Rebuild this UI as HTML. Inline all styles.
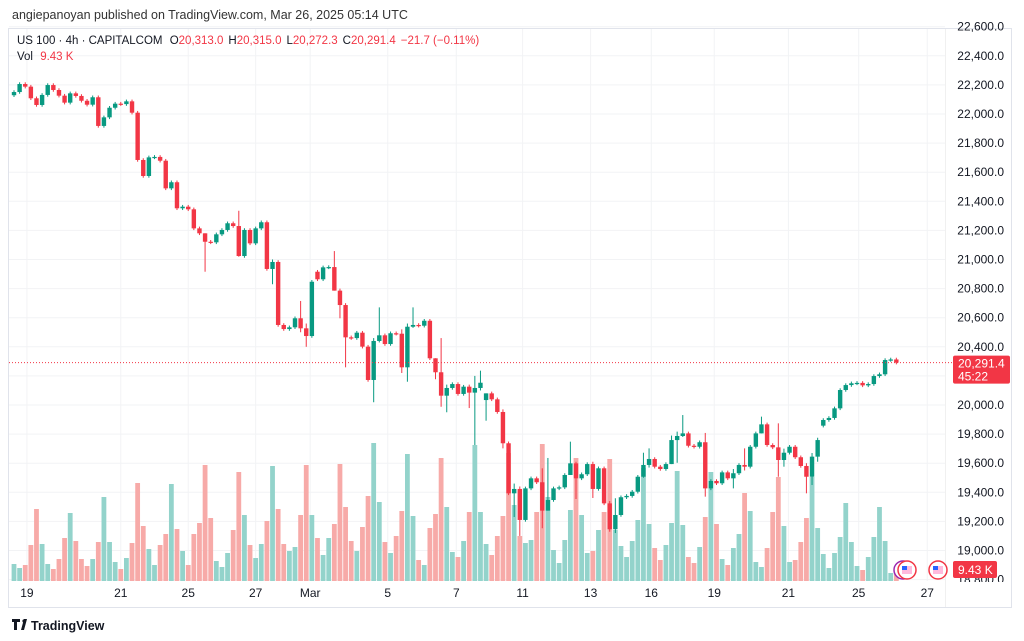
<!DOCTYPE html>
<html><head><meta charset="utf-8">
<style>
html,body{margin:0;padding:0;background:#fff;}
body{width:1024px;height:641px;overflow:hidden;position:relative;font-family:"Liberation Sans",sans-serif;}
svg{position:absolute;left:0;top:0;}
</style></head>
<body>
<svg id="chart" width="1024" height="641" xmlns="http://www.w3.org/2000/svg"></svg>
<script>
const closes=[22151,22206,22188,22108,22062,22131,22199,22165,22126,22078,22142,22124,22091,22064,22115,21918,21977,22043,22071,22068,22087,22009,21684,21574,21702,21705,21679,21489,21531,21352,21363,21345,21214,21180,21122,21118,21173,21203,21249,21230,21024,21203,21111,21214,21256,20935,20983,20550,20522,20534,20596,20527,20474,20847,20864,20946,20948,20786,20687,20465,20460,20497,20401,20172,20440,20479,20419,20493,20490,20259,20538,20550,20545,20579,20321,20225,20064,20117,20144,20076,20126,20085,20117,20153,20080,20039,19952,19737,19393,19423,19210,19427,19496,19469,19274,19347,19427,19434,19519,19599,19496,19524,19594,19423,19565,19324,19146,19244,19366,19375,19404,19507,19588,19629,19576,19560,19594,19759,19787,19805,19720,19713,19744,19427,19478,19462,19537,19496,19531,19588,19576,19713,19805,19867,19725,19709,19622,19672,19713,19641,19581,19507,19645,19759,19897,19911,19977,20103,20137,20149,20152,20135,20144,20199,20211,20309,20313,20291.4];
const firstOpen=22129;
const gapOpens={54:20916,84:20034,144:19858,157:20313};
const wickExtremes={34:[21160,20916],40:[21335,21019],46:[21000,20830],51:[20715,20500],52:[20560,20400],57:[21058,20930],58:[20800,20596],59:[20700,20259],64:[20460,20019],65:[20671,20430],69:[20520,20220],70:[20560,20160],71:[20671,20530],75:[20300,20177],76:[20460,19988],77:[20140,19950],81:[20140,19979],82:[20200,19725],83:[20236,20100],84:[20060,19892],87:[19970,19702],89:[19460,19230],90:[19440,19100],94:[19565,19153],95:[19636,19320],99:[19748,19570],100:[19610,19354],103:[19610,19361],106:[19340,19129],107:[19359,19120],112:[19672,19500],113:[19702,19570],117:[19790,19601],118:[19817,19603],119:[19931,19780],123:[19808,19370],128:[19560,19427],130:[19702,19550],133:[19920,19850],136:[19874,19507],137:[19700,19576],141:[19600,19393],142:[19670,19450],143:[19775,19610]};
const volumes=[17,13,16,36,72,37,17,12,22,43,68,40,22,15,22,39,84,39,19,12,23,38,98,55,32,16,36,47,97,52,30,16,47,58,116,63,20,14,28,51,109,66,36,23,37,60,115,72,37,30,34,66,116,66,43,26,43,57,117,74,40,30,54,85,138,79,39,28,45,70,127,65,21,16,53,67,123,74,29,24,40,69,136,69,37,26,45,65,128,76,45,38,41,69,137,84,31,18,41,71,123,66,28,30,51,69,122,51,35,24,40,61,113,57,33,21,36,58,110,56,24,18,34,64,109,57,22,16,33,47,88,70,19,14,33,69,104,55,19,21,39,63,104,53,27,13,28,44,78,39,15,11,24,44,74,40,8,9.43];
const priceTicks=[22600,22400,22200,22000,21800,21600,21400,21200,21000,20800,20600,20400,20200,20000,19800,19600,19400,19200,19000,18800];
const dateLabels=["19","21","25","27","Mar","5","7","11","13","16","19","21","25","27"];
const dateIndex=[2.3,19,31,43,52.7,66.5,78.7,90.5,102.6,113.4,124.6,137.8,150.3,162.5];

const NS="http://www.w3.org/2000/svg";
const svg=document.getElementById('chart');
const G="#089981",R="#f23645",VG="#93d3cb",VR="#f7aaa8";
const xOf=i=>14+i*5.62;
const yOf=p=>405-(p-20000)*0.1455;
const vY=v=>581-v*1.0;
function mk(tag,attrs,parent){const e=document.createElementNS(NS,tag);for(const k in attrs)e.setAttribute(k,attrs[k]);(parent||svg).appendChild(e);return e;}
function fmt(n){return n.toLocaleString('en-US',{minimumFractionDigits:1,maximumFractionDigits:1});}

// frame
let e=mk('rect',{x:8.5,y:28.5,width:1003,height:579,fill:'none',stroke:'#e0e3eb'});


// grid
const grid=mk('g',{});


priceTicks.forEach(p=>{mk('line',{x1:9,x2:945,y1:yOf(p),y2:yOf(p),stroke:'#f2f3f5'},grid);});
dateIndex.forEach(i=>{mk('line',{x1:xOf(i),x2:xOf(i),y1:29,y2:581,stroke:'#f2f3f5'},grid);});
mk('line',{x1:945.5,x2:945.5,y1:29,y2:607,stroke:'#f0f0f0'},grid);

// volume bars
const vg=mk('g',{});


const opens=closes.map((c,i)=>gapOpens[i]!==undefined?gapOpens[i]:(i===0?firstOpen:closes[i-1]));
volumes.forEach((v,i)=>{
  const up=closes[i]>=opens[i];
  const b=mk('rect',{x:xOf(i)-2.4,y:vY(v),width:4.8,height:581-vY(v),fill:up?VG:VR},vg);
  
  
});

// candles
const cg=mk('g',{});


closes.forEach((c,i)=>{
  const o=opens[i],up=c>=o,col=up?G:R;
  const we=wickExtremes[i];
  const hi=we?Math.max(we[0],o,c):Math.max(o,c)+12;
  const lo=we?Math.min(we[1],o,c):Math.min(o,c)-12;
  const x=xOf(i);
  const g=mk('g',{},cg);
  
  
  mk('line',{x1:x,x2:x,y1:yOf(hi),y2:yOf(lo),stroke:col,'stroke-width':1},g);
  const yt=yOf(Math.max(o,c)),yb=yOf(Math.min(o,c));
  mk('rect',{x:x-2.2,y:yt,width:4.4,height:Math.max(1.2,yb-yt),fill:col},g);
});

// last price line
const last=closes[closes.length-1];
e=mk('line',{x1:9,x2:952,y1:yOf(last),y2:yOf(last),stroke:R,'stroke-width':1,'stroke-dasharray':'1 2'});



// price axis
const pa=mk('g',{});


priceTicks.forEach(p=>{
  const t=mk('text',{x:1004,y:yOf(p)+4,'text-anchor':'end','font-size':12,fill:'#131722'},pa);
  t.textContent=fmt(p);
  
  
});
// white mask below axis bottom
mk('rect',{x:946,y:582,width:65,height:25,fill:'#fff'});
// date axis
const da=mk('g',{});


dateLabels.forEach((d,k)=>{
  const t=mk('text',{x:xOf(dateIndex[k]),y:597,'text-anchor':'middle','font-size':12,fill:'#131722'},da);
  t.textContent=d;
  
  
});

// price label
const pl=mk('g',{});


mk('rect',{x:953,y:yOf(last)-7,width:57,height:28,rx:2,fill:R},pl);
let t=mk('text',{x:958,y:yOf(last)+5,'font-size':12,fill:'#fff'},pl);t.textContent=fmt(last);
t=mk('text',{x:958,y:yOf(last)+18,'font-size':12,fill:'#fff'},pl);t.textContent="45:22";
// volume label
const vl=mk('g',{});


mk('rect',{x:953,y:561,width:44,height:17,rx:2,fill:R},vl);
t=mk('text',{x:958,y:574,'font-size':12,fill:'#fff'},vl);t.textContent="9.43 K";

// event icons
[[903,570,'#9c27b0'],[907,570,R],[938,570,R]].forEach((c,k)=>{
  const ic=mk('g',{});
  
  
  mk('circle',{cx:c[0],cy:c[1],r:9,fill:'#fff',stroke:c[2],'stroke-width':1.5},ic);
  if(k>0){mk('rect',{x:c[0]-5,y:c[1]-4,width:10,height:8,fill:'#fbd'},ic);mk('rect',{x:c[0]-5,y:c[1]-4,width:5,height:4,fill:'#2962ff'},ic);}
});

// header texts
t=mk('text',{x:12,y:19,'font-size':12.5,fill:'#333'});t.textContent="angiepanoyan published on TradingView.com, Mar 26, 2025 05:14 UTC";

const lg=mk('text',{x:17,y:44,'font-size':11.5,fill:'#131722'});


lg.innerHTML='US 100 · 4h · CAPITALCOM <tspan dx="4">O</tspan><tspan fill="#f23645">20,313.0</tspan><tspan dx="5">H</tspan><tspan fill="#f23645">20,315.0</tspan><tspan dx="5">L</tspan><tspan fill="#f23645">20,272.3</tspan><tspan dx="5">C</tspan><tspan fill="#f23645">20,291.4</tspan><tspan dx="5" fill="#f23645">−21.7 (−0.11%)</tspan>';
const vlg=mk('text',{x:17,y:60,'font-size':11.5,fill:'#131722'});


vlg.innerHTML='Vol <tspan dx="4" fill="#f23645">9.43 K</tspan>';

// footer logo
const ft=mk('g',{});


mk('path',{d:'M12 619h8v3h-3v8h-3v-8h-2z M21 630l3-11h3l-3 11z',fill:'#131722'},ft);
mk('circle',{cx:24,cy:621,r:1.6,fill:'#131722'},ft);
t=mk('text',{x:31,y:630,'font-size':12.5,'font-weight':'bold',fill:'#131722'},ft);t.textContent="TradingView";
</script>
</body></html>
